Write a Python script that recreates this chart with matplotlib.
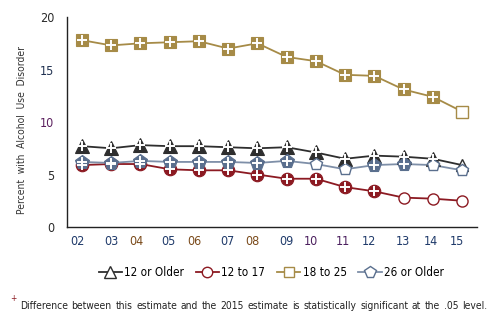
import matplotlib.pyplot as plt
import numpy as np

plt.rcParams['font.family'] = ['DejaVu Sans']
plt.rcParams['font.stretch'] = 'condensed'

years = ['02', '03', '04', '05', '06', '07', '08', '09', '10', '11', '12', '13', '14', '15']

older12 = [7.7, 7.5, 7.8, 7.7, 7.7, 7.6, 7.5, 7.6, 7.1, 6.5, 6.8, 6.7, 6.5, 5.9]
age12_17 = [5.9, 6.0, 6.0, 5.5, 5.4, 5.4, 5.0, 4.6, 4.6, 3.8, 3.4, 2.8, 2.7, 2.5]
age18_25 = [17.8, 17.3, 17.5, 17.6, 17.7, 17.0, 17.5, 16.2, 15.8, 14.5, 14.4, 13.1, 12.4, 11.0]
older26 = [6.2, 6.1, 6.3, 6.2, 6.2, 6.2, 6.1, 6.3, 6.0, 5.5, 5.9, 6.0, 5.9, 5.4]

# 1 = differs significantly from 2015
sig_older12 = [1, 1, 1, 1, 1, 1, 1, 1, 1, 1, 1, 1, 1, 0]
sig_12_17 = [1, 1, 1, 1, 1, 1, 1, 1, 1, 1, 1, 0, 0, 0]
sig_18_25 = [1, 1, 1, 1, 1, 1, 1, 1, 1, 1, 1, 1, 1, 0]
sig_older26 = [1, 1, 1, 1, 1, 1, 1, 1, 0, 0, 1, 1, 0, 0]

series = [
    ('12 or Older', older12, sig_older12, '#2e2e2e', '#2e2e2e', '^', 10),
    ('12 to 17', age12_17, sig_12_17, '#8c1a22', '#8c1a22', 'o', 9),
    ('18 to 25', age18_25, sig_18_25, '#a68b47', '#a68b47', 's', 9),
    ('26 or Older', older26, sig_older26, '#5a6f8e', '#7e8fa8', 'p', 10),
]

# year labels sit slightly off the points
label_nudge = [-0.15, 0, -0.14, -0.03, -0.17, -0.03, -0.17, 0, -0.17, -0.07, -0.2, -0.03, -0.07, -0.17]

fig = plt.figure(figsize=(4.95, 3.22), dpi=100)
ax = fig.add_axes([0.1354, 0.295, 0.8282, 0.652])

x = np.arange(len(years))
handles = []
for name, vals, sig, col, lcol, mk, ms in series:
    vals = np.array(vals)
    sig = np.array(sig, dtype=bool)
    ax.plot(x, vals, color=lcol, lw=1.3, zorder=2)
    ax.plot(x[sig], vals[sig], ls='none', marker=mk, ms=ms, mfc=col, mec=col, mew=0.8, zorder=3)
    ax.plot(x[~sig], vals[~sig], ls='none', marker=mk, ms=ms - 1, mfc='white', mec=col, mew=1.0, zorder=3)
    ax.plot(x[sig], vals[sig], ls='none', marker='+', ms=6.5, mec='white', mew=1.4, zorder=4)
    h, = ax.plot([], [], color=lcol, lw=1.3, marker=mk, ms=ms - 1.5, mfc='white', mec=col, mew=1.0)
    handles.append(h)

ax.set_xlim(-0.51, 13.51)
ax.set_ylim(0, 20)
ax.set_yticks([0, 5, 10, 15, 20])
ax.set_xticks(x + np.array(label_nudge))
ax.set_xticklabels(years)
ax.tick_params(length=0)
ax.tick_params(axis='y', pad=9, labelsize=9)
ax.tick_params(axis='x', pad=6, labelsize=9)

ycols = ['#2a2a2a', '#2a2a2a', '#5b1f5e', '#1f3050', '#2a2a2a']
for t, c in zip(ax.get_yticklabels(), ycols):
    t.set_color(c)
xcols = ['#1f3a6a', '#1f3a6a', '#7a4a1a', '#1f3a6a', '#7a4a1a', '#1f3a6a', '#7a4a1a',
         '#1f3a6a', '#4b1f5e', '#4b1f5e', '#1f3a6a', '#1f3a6a', '#1f3a6a', '#1f3a6a']
for t, c in zip(ax.get_xticklabels(), xcols):
    t.set_color(c)

for s in ['top', 'right']:
    ax.spines[s].set_visible(False)
for s in ['left', 'bottom']:
    ax.spines[s].set_linewidth(1.0)
    ax.spines[s].set_color('#222222')

fig.text(0.045, 0.595, 'Percent  with  Alcohol  Use  Disorder', rotation=90,
         ha='center', va='center', fontsize=7.4, color='#333333')

fig.legend(handles, [s[0] for s in series], loc='center', bbox_to_anchor=(0.548, 0.155),
           ncol=4, frameon=False, fontsize=8.4, handlelength=2.0, handletextpad=0.2,
           columnspacing=1.0)

# footnote, words spread across the full width
note = 'Difference between this estimate and the 2015 estimate is statistically significant at the .05 level.'
fig.text(0.02, 0.06, '+', fontsize=6, color='#8c1a22', va='bottom')
words = note.split()
fig.canvas.draw()
r = fig.canvas.get_renderer()
items = [fig.text(0, 0.05, w, fontsize=7.4, color='#222222', va='center') for w in words]
widths = [t.get_window_extent(r).width for t in items]
x0, x1 = 0.04 * 495, 0.984 * 495
gap = (x1 - x0 - sum(widths)) / (len(words) - 1)
pos = x0
for t, w in zip(items, widths):
    t.set_x(pos / 495)
    pos += w + gap

fig.savefig('out.png', dpi=100)
